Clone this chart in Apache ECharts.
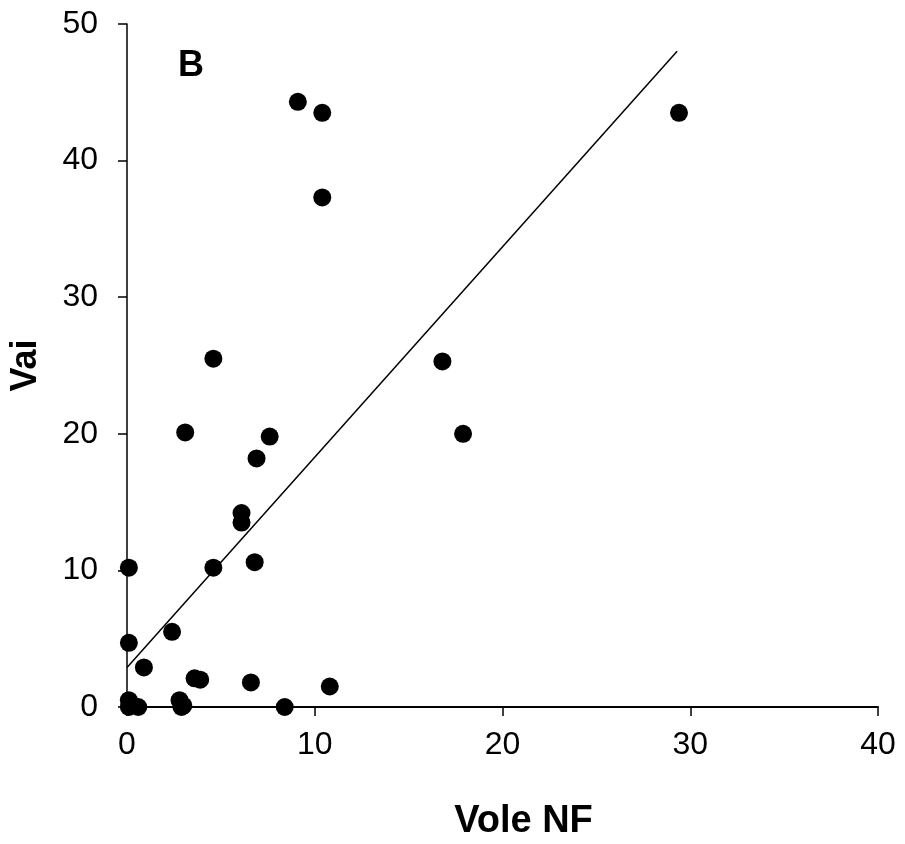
<!DOCTYPE html>
<html>
<head>
<meta charset="utf-8">
<script src="https://cdn.jsdelivr.net/npm/echarts@6/dist/echarts.min.js"></script>
<style>html,body{margin:0;padding:0;background:#fff}#c{width:905px;height:844px}</style>
</head>
<body>
<div id="c"></div>
<script>
var voleNF = [9.1, 10.4, 10.4, 29.4, 4.6, 16.8, 17.9, 3.1, 7.6, 6.9, 6.1, 6.1, 4.6, 6.8, 0.1, 0.1, 2.4, 0.9, 3.6, 3.9, 6.6, 10.8, 8.4, 0.1, 0.1, 0.6, 2.8, 3.0, 2.9];
var vai    = [44.3, 43.5, 37.3, 43.5, 25.5, 25.3, 20.0, 20.1, 19.8, 18.2, 14.2, 13.5, 10.2, 10.6, 10.2, 4.7, 5.5, 2.9, 2.1, 2.0, 1.8, 1.5, 0.0, 0.5, 0.0, 0.0, 0.5, 0.1, 0.0];
var trendX = [0, 29.3];
var trendY = [2.9, 48.0];
var xTicks = [0, 10, 20, 30, 40];
var yTicks = [0, 10, 20, 30, 40, 50];
var panelLabel = 'B';
var xTitle = 'Vole NF';
var yTitle = 'Vai';

var FONT = "'Liberation Sans', Arial, sans-serif";
var pts = voleNF.map(function (x, i) { return [x, vai[i]]; });
var line = trendX.map(function (x, i) { return [x, trendY[i]]; });

var chart = echarts.init(document.getElementById('c'), null, {renderer: 'canvas'});
chart.setOption({
  animation: false,
  backgroundColor: '#fff',
  title: {
    text: panelLabel, left: 173, top: 43,
    textStyle: {fontFamily: FONT, fontSize: 36, fontWeight: 'bold', color: '#000'}
  },
  grid: {left: 127, right: 27, top: 24, bottom: 137, containLabel: false, outerBoundsMode: 'none'},
  xAxis: {
    type: 'value', min: xTicks[0], max: xTicks[xTicks.length - 1], interval: 10,
    name: xTitle, nameLocation: 'middle', nameGap: 96,
    nameTextStyle: {fontFamily: FONT, fontSize: 38, fontWeight: 'bold', color: '#000', padding: [0, 0, 0, 42]},
    axisLine: {show: true, onZero: false, lineStyle: {color: '#000', width: 2}},
    axisTick: {show: true, inside: false, length: 9, lineStyle: {color: '#000', width: 1.5}},
    axisLabel: {fontFamily: FONT, fontSize: 32, color: '#000', margin: 22},
    splitLine: {show: false}
  },
  yAxis: {
    type: 'value', min: yTicks[0], max: yTicks[yTicks.length - 1], interval: 10,
    name: yTitle, nameLocation: 'middle', nameGap: 83, nameRotate: 90,
    nameTextStyle: {fontFamily: FONT, fontSize: 36, fontWeight: 'bold', color: '#000'},
    axisLine: {show: true, onZero: false, lineStyle: {color: '#000', width: 1.5}},
    axisTick: {show: true, inside: false, length: 9, lineStyle: {color: '#000', width: 1.5}},
    axisLabel: {fontFamily: FONT, fontSize: 32, color: '#000', margin: 29},
    splitLine: {show: false}
  },
  series: [
    {
      type: 'line', data: line, showSymbol: false, symbol: 'none',
      lineStyle: {color: '#000', width: 1.5}, z: 3, clip: false
    },
    {
      type: 'scatter', data: pts, symbol: 'circle', symbolSize: 18,
      itemStyle: {color: '#000', opacity: 1}, z: 4, clip: false
    }
  ]
});
</script>
</body>
</html>
